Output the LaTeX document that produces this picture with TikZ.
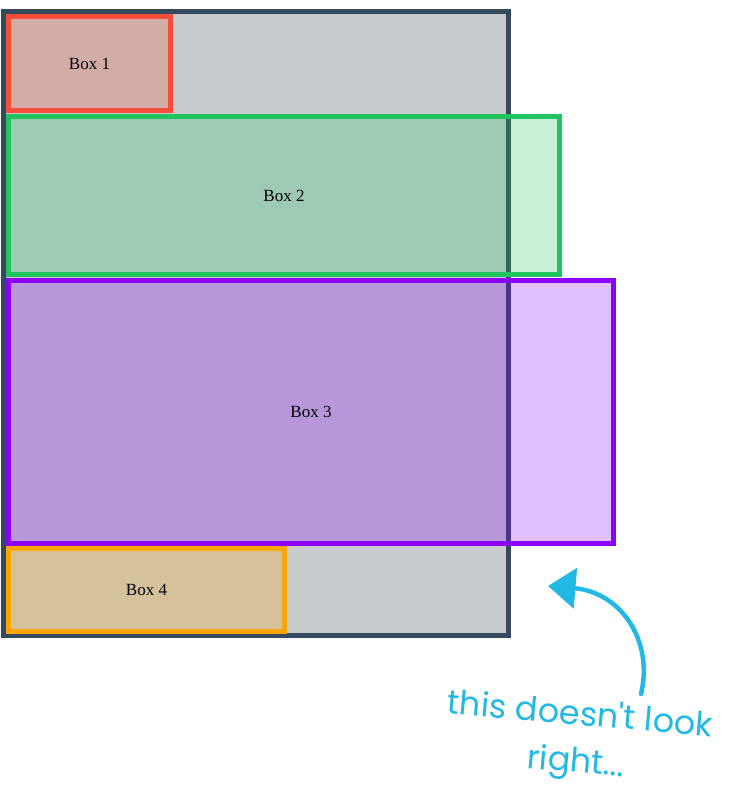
\documentclass[tikz,border=0pt]{standalone}
\usepackage{fontspec}
\setmainfont{Liberation Serif}
\newfontfamily\handfont{Poppins}
\definecolor{framedark}{RGB}{52,73,94}
\definecolor{framegray}{RGB}{200,204,206}
\definecolor{boxred}{RGB}{246,78,56}
\definecolor{boxgreen}{RGB}{33,194,96}
\definecolor{boxpurple}{RGB}{140,0,255}
\definecolor{boxorange}{RGB}{255,165,0}
\definecolor{notecyan}{RGB}{35,185,228}
\usetikzlibrary{arrows.meta,positioning}

\begin{document}
\begin{tikzpicture}[x=0.02cm, y=-0.02cm,
    flexbox/.style={draw=#1, fill=#1, fill opacity=0.25, text opacity=1,
        line width=0.1cm, inner sep=0pt, outer sep=0pt,
        font=\fontsize{9.7pt}{11pt}\selectfont},
    notetext/.style={text=notecyan, font=\handfont\fontsize{19pt}{27pt}\selectfont,
        align=center, rotate=-5, inner sep=0pt}]
    % Canvas
    \useasboundingbox (0,0) rectangle (752,802);

    % Container
    \node[draw=framedark, fill=framegray, line width=0.1cm, inner sep=0pt,
        minimum width=10.1cm, minimum height=12.48cm] (container) at (256,323.5) {};

    % Boxes
    \node[flexbox=boxred, minimum width=3.24cm, minimum height=1.88cm] (box1) at (89.5,63.5) {Box 1};
    \node[flexbox=boxgreen, minimum width=11.02cm, minimum height=3.16cm] (box2) at (284,195.5) {Box 2};
    \node[flexbox=boxpurple, minimum width=12.1cm, minimum height=5.26cm] (box3) at (311,412) {Box 3};
    \node[flexbox=boxorange, minimum width=5.52cm, minimum height=1.66cm] (box4) at (146.5,590) {Box 4};

    % Note
    \node[notetext] (note) at (578,740) {this doesn't look\\right...};
    \coordinate (tail) at (641,694);
    \coordinate (tip) at (548,586);
    \draw[notecyan, line width=0.09cm, line cap=round,
        -{Triangle[length=0.55cm, width=0.8cm]}]
        (tail) .. controls (654,640) and (620,592) .. (tip);
\end{tikzpicture}
\end{document}
